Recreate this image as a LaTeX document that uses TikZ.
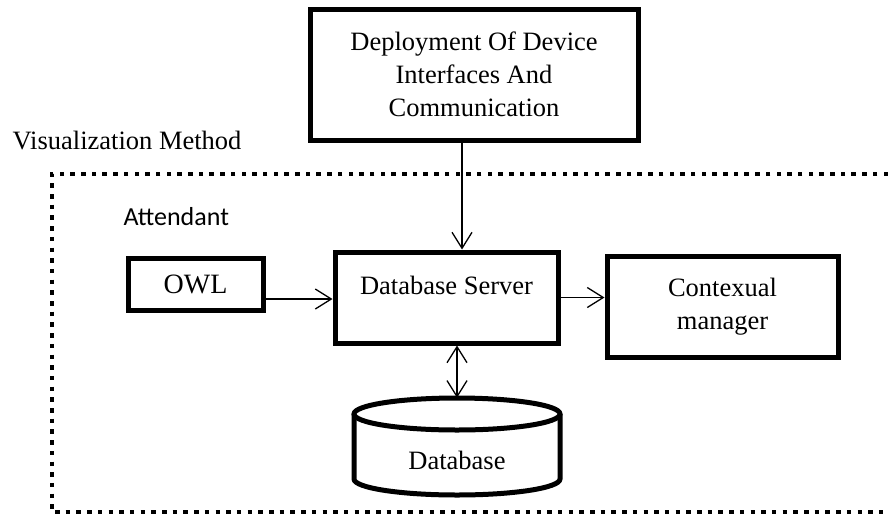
\documentclass[tikz,border=0pt]{standalone}
\usepackage{fontspec}
\setmainfont{Liberation Serif}
\newfontfamily\attfont{Carlito}
\usetikzlibrary{arrows.meta,positioning}
\tikzstyle{block}=[draw, line width=5pt, rectangle, align=center, inner sep=0pt]
\tikzstyle{link}=[line width=1.3pt, -{Straight Barb[length=16pt,width=20pt,line width=1.3pt]}]
\tikzstyle{dblink}=[line width=1.3pt, {Straight Barb[length=16pt,width=20pt,line width=1.3pt]}-{Straight Barb[length=16pt,width=20pt,line width=1.3pt]}]

\begin{document}
\begin{tikzpicture}[x=1pt, y=-1pt, font=\fontsize{26.5}{33}\selectfont]
\useasboundingbox (0,0) rectangle (888,517);
% dotted area (open on the right)
\draw[line width=4.5pt, dash pattern=on 4.5pt off 6.2pt] (888,174) -- (52,174) -- (52,512) -- (888,512);
\node[block, minimum width=328pt, minimum height=131pt] (deploy) at (474,74.5) {Deployment Of Device\\Interfaces And\\Communication};
\node[anchor=base east] (visual) at (245,149) {Visualization Method};
\node[anchor=west, font=\attfont\fontsize{26}{30}\selectfont] (attend) at (120,217) {Attendant};
\node[block, minimum width=135pt, minimum height=52pt, font=\fontsize{28}{33}\selectfont] (owl) at (195.5,284) {OWL};
\node[block, minimum width=223pt, minimum height=91pt,
      label={[yshift=12.5pt]center:Database Server}] (dbs) at (446.5,297.5) {};
\node[block, minimum width=231pt, minimum height=101pt] (ctx) at (722.5,306.5) {Contexual\\manager};
% cylinder
\node[minimum width=206pt, minimum height=97pt, inner sep=0pt,
      label={[yshift=-14pt]center:Database}] (db) at (457,446.5) {};
\draw[line width=5pt] (457,414) ellipse [x radius=103pt, y radius=16pt];
\draw[line width=5pt] (354,414) -- (354,479) arc[start angle=180, end angle=360, x radius=103pt, y radius=16pt] -- (560,414);
% connectors
\draw[link] ([xshift=-12pt]deploy.south) -- ([xshift=-12pt]deploy.south |- dbs.north);
\draw[link] ([yshift=-15pt]owl.east) -- ([yshift=-15pt]owl.east -| dbs.west);
\draw[link] (dbs.east) -- (dbs.east -| ctx.west);
\draw[dblink] ([xshift=10.5pt]dbs.south) -- ([xshift=10.5pt]dbs.south |- db.north);
\end{tikzpicture}
\end{document}
